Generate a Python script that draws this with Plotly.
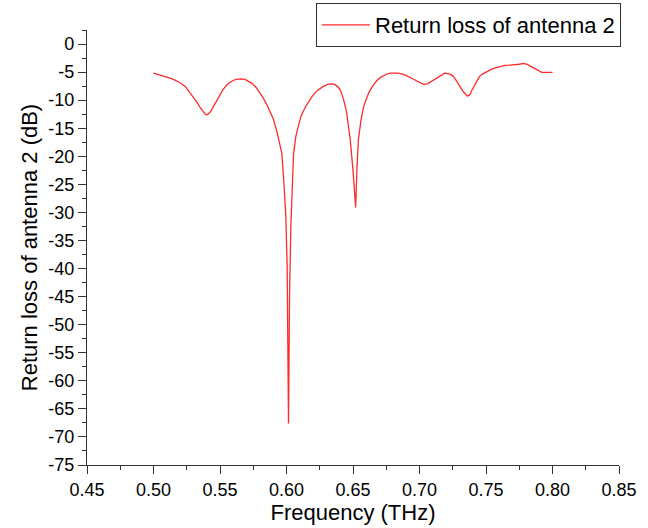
import plotly.graph_objects as go

# Measured return loss (S11) of antenna 2 over frequency
freq_thz = [
    0.500, 0.505, 0.510, 0.515, 0.520, 0.524, 0.527, 0.530, 0.533, 0.535,
    0.537, 0.539, 0.540, 0.541, 0.543, 0.545, 0.547, 0.550, 0.552, 0.555,
    0.557, 0.560, 0.562, 0.566, 0.569, 0.571, 0.574, 0.577, 0.580, 0.582,
    0.585, 0.587, 0.590, 0.593, 0.5965, 0.598, 0.5995, 0.6005, 0.6015, 0.6023,
    0.6033, 0.6053, 0.607, 0.609, 0.611, 0.614, 0.617, 0.619, 0.623, 0.626,
    0.628, 0.631, 0.634, 0.636, 0.638, 0.640, 0.641, 0.643, 0.645, 0.6465,
    0.648, 0.650, 0.652, 0.653, 0.654, 0.656, 0.658, 0.660, 0.662, 0.665,
    0.668, 0.671, 0.673, 0.676, 0.678, 0.681, 0.684, 0.687, 0.690, 0.694,
    0.697, 0.700, 0.703, 0.706, 0.708, 0.711, 0.714, 0.717, 0.719, 0.722,
    0.724, 0.726, 0.729, 0.731, 0.733, 0.736, 0.738, 0.739, 0.741, 0.743,
    0.745, 0.747, 0.750, 0.752, 0.755, 0.758, 0.761, 0.764, 0.768, 0.772,
    0.775, 0.778, 0.781, 0.783, 0.786, 0.788, 0.790, 0.792, 0.796, 0.800,
]
return_loss_db = [
    -5.2, -5.5, -5.9, -6.3, -6.9, -7.6, -8.5, -9.5, -10.5, -11.3,
    -12.0, -12.5, -12.6, -12.5, -12.0, -11.1, -10.2, -8.9, -8.2, -7.3,
    -6.9, -6.5, -6.3, -6.2, -6.3, -6.6, -7.0, -7.7, -8.6, -9.4,
    -10.7, -11.8, -13.3, -15.8, -19.5, -24.5, -30.7, -39.7, -67.6, -44.6,
    -32.3, -19.6, -16.5, -14.5, -12.8, -11.3, -10.2, -9.4, -8.3, -7.8,
    -7.5, -7.2, -7.1, -7.2, -7.5, -8.0, -8.5, -10.0, -11.9, -14.5,
    -17.2, -22.5, -29.1, -22.0, -17.2, -13.5, -11.2, -9.8, -8.6, -7.4,
    -6.5, -5.9, -5.6, -5.3, -5.2, -5.15, -5.2, -5.35, -5.6, -6.1,
    -6.5, -6.9, -7.2, -7.1, -6.8, -6.3, -5.8, -5.4, -5.2, -5.3,
    -5.5, -5.9, -7.0, -7.8, -8.5, -9.3, -9.0, -8.4, -7.5, -6.5,
    -5.8, -5.4, -5.0, -4.7, -4.4, -4.2, -4.0, -3.8, -3.75, -3.7,
    -3.6, -3.45, -3.6, -3.9, -4.3, -4.6, -4.9, -5.05, -5.05, -5.05,
]

series_name = "Return loss of antenna 2"

# Axis ticks
x_tick_vals = [0.45, 0.50, 0.55, 0.60, 0.65, 0.70, 0.75, 0.80, 0.85]
y_tick_vals = [0, -5, -10, -15, -20, -25, -30, -35, -40, -45, -50, -55, -60, -65, -70, -75]
y_tick_text = [str(v) for v in y_tick_vals]

font_family = "Liberation Sans, Arial, sans-serif"
axis_color = "#333333"

fig = go.Figure()
fig.add_trace(go.Scatter(
    x=freq_thz,
    y=return_loss_db,
    mode="lines",
    name=series_name,
    line=dict(color="#ff2a2a", width=1.3),
    showlegend=True,
))

fig.update_layout(
    width=648,
    height=528,
    margin=dict(l=87, r=29, t=30, b=63, autoexpand=False),
    paper_bgcolor="white",
    plot_bgcolor="white",
    font=dict(family=font_family, color="black", size=18),
    showlegend=True,
    legend=dict(
        xref="container", yref="container",
        x=621 / 648, y=1 - 3 / 528, xanchor="right", yanchor="top",
        bgcolor="white", bordercolor=axis_color, borderwidth=1,
        font=dict(size=22, family=font_family, color="black"),
        tracegroupgap=0,
        itemwidth=48,
    ),
    xaxis=dict(
        range=[0.45, 0.85],
        tickvals=x_tick_vals,
        tickformat=".2f",
        ticks="outside", ticklen=8, tickwidth=1.2, tickcolor=axis_color,
        minor=dict(ticks="outside", ticklen=4, dtick=0.025, tick0=0.45,
                   tickcolor=axis_color, tickwidth=1.2),
        showline=True, linecolor=axis_color, linewidth=1.3,
        showgrid=False, zeroline=False,
        tickfont=dict(size=18),
        title=dict(text="Frequency (THz)", font=dict(size=22), standoff=2),
    ),
    yaxis=dict(
        range=[-75, 2.5],
        tickvals=y_tick_vals,
        ticktext=y_tick_text,
        ticks="outside", ticklen=8, tickwidth=1.2, tickcolor=axis_color,
        minor=dict(ticks="outside", ticklen=4, dtick=2.5, tick0=0,
                   tickcolor=axis_color, tickwidth=1.2),
        showline=True, linecolor=axis_color, linewidth=1.3,
        showgrid=False, zeroline=False,
        tickfont=dict(size=18),
        title=dict(text="Return loss of antenna 2 (dB)", font=dict(size=22), standoff=4),
    ),
)

fig.write_html("out.html")
